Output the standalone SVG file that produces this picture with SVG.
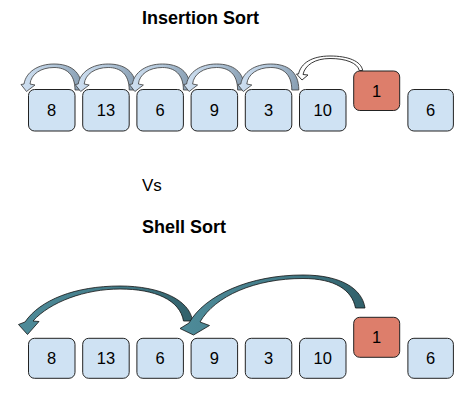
<svg xmlns="http://www.w3.org/2000/svg" width="466" height="405" viewBox="0 0 466 405">
<style>
text{font-family:"Liberation Sans",Arial,sans-serif;fill:#000}
.t{font-size:18px;font-weight:bold}
.v{font-size:17px}
.n{font-size:16.5px;text-anchor:middle}
.b{fill:#cfe2f3;stroke:#222;stroke-width:1}
.r{fill:#dd7e6b;stroke:#222;stroke-width:1}
.ga{fill:url(#gg);stroke:#3a3a3a;stroke-width:0.8}
.ta{fill:url(#tg);stroke:#111;stroke-width:0.8}
.wa{fill:#fff;stroke:#222;stroke-width:0.9}
</style>
<defs>
<linearGradient id="gg" x1="0" y1="0" x2="1" y2="0">
<stop offset="0" stop-color="#cfe0f2"/>
<stop offset="0.55" stop-color="#b2c6d9"/>
<stop offset="1" stop-color="#879db1"/>
</linearGradient>
<linearGradient id="tg" x1="0" y1="0" x2="1" y2="0">
<stop offset="0" stop-color="#4e8b99"/>
<stop offset="0.6" stop-color="#427a87"/>
<stop offset="1" stop-color="#31606a"/>
</linearGradient>
<path id="ga" d="M54,90 C54,71 42,64 26,64 C10,64 -2,72 -4,84 L-7,84.5 L-1.5,91.5 L7,85 L2,84 C3,74 13,67.5 26,67.5 C38,67.5 47,74 47,90 Z"/>
</defs>

<text class="t" x="142" y="23.5">Insertion Sort</text>
<text class="v" x="142" y="190.5">Vs</text>
<text class="t" x="142" y="233.3">Shell Sort</text>

<g id="connectors">
<use href="#ga" class="ga" x="28"/>
<use href="#ga" class="ga" x="82.2"/>
<use href="#ga" class="ga" x="136.4"/>
<use href="#ga" class="ga" x="190.6"/>
<use href="#ga" class="ga" x="244.8"/>
<path class="wa" d="M362.7,70.5 C361,61 348,56 330,56 C312,56 301,63 298.5,74 L296.5,74 L302,80 L308,75 L303,74.5 C305,65 315,58.5 330,58.5 C346,58.5 357.5,63 359.3,70.5 Z"/>
<path class="ta" d="M192.5,321 C190,300 160,286 120,286 C75,286 40,300 25,322 L18.5,324.5 L27.5,334.5 L39,321.5 L33,321 C50,302 85,289 120,289 C155,289 180,300 183.5,321 Z"/>
<path class="ta" d="M365,308 C362,288 340,275 303,275 C250,275 205,295 189,323 L180,328.5 L193.5,335 L209.5,325.5 L200,322 C215,296 255,278.5 303,278.5 C335,278.5 352,290 355.5,308 Z"/>
</g>

<g id="top-8"><rect class="b" x="28.5" y="89.5" width="46.5" height="41.5" rx="6"/><text class="n" x="51.7" y="116.2">8</text></g>
<g id="top-13"><rect class="b" x="82.7" y="89.5" width="46.5" height="41.5" rx="6"/><text class="n" x="105.9" y="116.2">13</text></g>
<g id="top-6a"><rect class="b" x="136.9" y="89.5" width="46.5" height="41.5" rx="6"/><text class="n" x="160.1" y="116.2">6</text></g>
<g id="top-9"><rect class="b" x="191.1" y="89.5" width="46.5" height="41.5" rx="6"/><text class="n" x="214.3" y="116.2">9</text></g>
<g id="top-3"><rect class="b" x="245.3" y="89.5" width="46.5" height="41.5" rx="6"/><text class="n" x="268.5" y="116.2">3</text></g>
<g id="top-10"><rect class="b" x="299.5" y="89.5" width="46.5" height="41.5" rx="6"/><text class="n" x="322.7" y="116.2">10</text></g>
<g id="top-1"><rect class="r" x="353.7" y="71" width="46" height="39.5" rx="6"/><text class="n" x="376.7" y="96.5">1</text></g>
<g id="top-6b"><rect class="b" x="407.9" y="89.5" width="45.5" height="41.5" rx="6"/><text class="n" x="430.7" y="116.2">6</text></g>

<g id="bot-8"><rect class="b" x="28.5" y="338.3" width="46.5" height="40" rx="6"/><text class="n" x="51.7" y="364.2">8</text></g>
<g id="bot-13"><rect class="b" x="82.7" y="338.3" width="46.5" height="40" rx="6"/><text class="n" x="105.9" y="364.2">13</text></g>
<g id="bot-6a"><rect class="b" x="136.9" y="338.3" width="46.5" height="40" rx="6"/><text class="n" x="160.1" y="364.2">6</text></g>
<g id="bot-9"><rect class="b" x="191.1" y="338.3" width="46.5" height="40" rx="6"/><text class="n" x="214.3" y="364.2">9</text></g>
<g id="bot-3"><rect class="b" x="245.3" y="338.3" width="46.5" height="40" rx="6"/><text class="n" x="268.5" y="364.2">3</text></g>
<g id="bot-10"><rect class="b" x="299.5" y="338.3" width="46.5" height="40" rx="6"/><text class="n" x="322.7" y="364.2">10</text></g>
<g id="bot-1"><rect class="r" x="353.7" y="317.3" width="46" height="40" rx="6"/><text class="n" x="376.7" y="343.2">1</text></g>
<g id="bot-6b"><rect class="b" x="407.9" y="338.3" width="45.5" height="40" rx="6"/><text class="n" x="430.7" y="364.2">6</text></g>
</svg>
